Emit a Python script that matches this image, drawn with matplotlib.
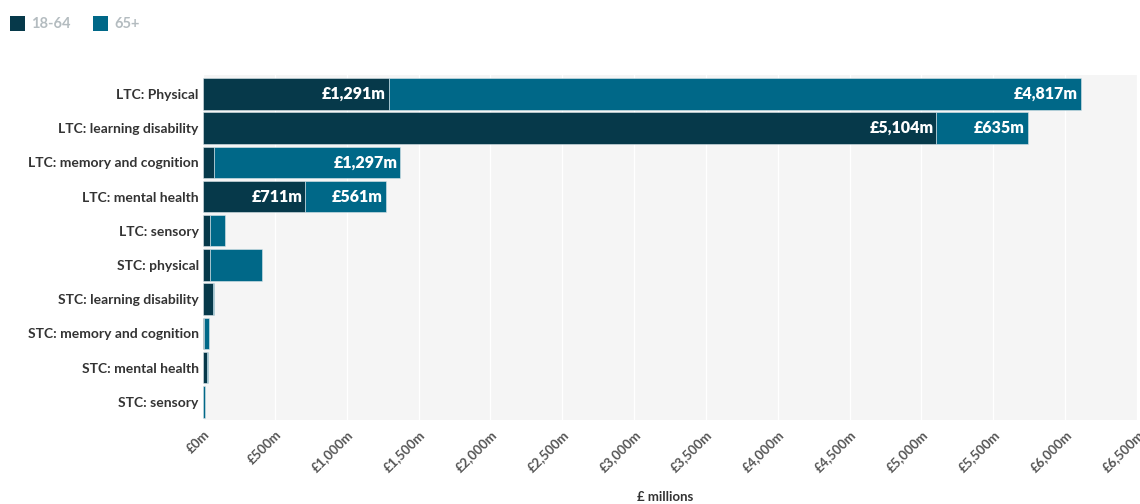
import matplotlib
matplotlib.use("Agg")
import matplotlib.pyplot as plt
from matplotlib.patches import Rectangle

categories = ["LTC: Physical", "LTC: learning disability", "LTC: memory and cognition",
              "LTC: mental health", "LTC: sensory", "STC: physical",
              "STC: learning disability", "STC: memory and cognition",
              "STC: mental health", "STC: sensory"]
age_18_64 = [1291, 5104, 75, 711, 52, 48, 72, 4, 26, 2]
age_65_plus = [4817, 635, 1297, 561, 98, 365, 3, 36, 12, 10]
series_names = ["18-64", "65+"]
xticks = list(range(0, 7000, 500))
label_threshold = 500

c_dark = "#06394a"
c_blue = "#006888"

plt.rcParams['font.family'] = ['Lato', 'DejaVu Sans']

fig = plt.figure(figsize=(11.4, 5.04), dpi=100)
ax = fig.add_axes([203/1140, 1-420/504, (1137-203)/1140, (420-75)/504])
ax.set_facecolor("#f5f5f5")

y = list(range(len(categories)))
h = 0.92
ax.barh(y, age_18_64, height=h, color=c_dark, edgecolor="#dce6ea", linewidth=0.4, zorder=3)
ax.barh(y, age_65_plus, left=age_18_64, height=h, color=c_blue, edgecolor="#dce6ea", linewidth=0.4, zorder=3)

def fmt(v):
    return "£{:,}m".format(v)

for i in y:
    a, b = age_18_64[i], age_65_plus[i]
    if a >= label_threshold:
        ax.text(a - 20, i, fmt(a), ha="right", va="center", color="white",
                fontsize=11.5, fontweight="heavy", zorder=4)
    if b >= label_threshold:
        ax.text(a + b - 20, i, fmt(b), ha="right", va="center", color="white",
                fontsize=11.5, fontweight="heavy", zorder=4)

ax.set_xlim(0, 6500)
ax.set_ylim(len(categories) - 0.47, -0.55)
ax.set_xticks(xticks)
ax.set_xticklabels([fmt(v) for v in xticks], rotation=45, ha="right",
                   rotation_mode="anchor", fontsize=9.5, color="#555555", fontweight="bold")
ax.set_yticks(y)
ax.set_yticklabels(categories, fontsize=10, color="#333333", fontweight="bold")
ax.tick_params(axis="both", length=0)
ax.tick_params(axis="y", pad=3)
ax.tick_params(axis="x", pad=6)
ax.grid(axis="x", color="white", linewidth=1.0, zorder=0)
ax.set_axisbelow(True)
for s in ax.spines.values():
    s.set_visible(False)

fig.text((203 + 1137) / 2 / 1140 - 0.004, 1 - 497/504, "£ millions", ha="center", va="center",
         fontsize=9.5, fontweight="bold", color="#333333")

# legend
fig.patches.append(Rectangle((10/1140, 1-31/504), 15/1140, 15/504, transform=fig.transFigure,
                             facecolor=c_dark, edgecolor="none"))
fig.text(31/1140, 1-24/504, series_names[0], fontsize=10.5, fontweight="bold",
         color="#b4bcc0", va="center", ha="left")
fig.patches.append(Rectangle((93/1140, 1-31/504), 15/1140, 15/504, transform=fig.transFigure,
                             facecolor=c_blue, edgecolor="none"))
fig.text(114/1140, 1-24/504, series_names[1], fontsize=10.5, fontweight="bold",
         color="#b4bcc0", va="center", ha="left")

fig.savefig("out.png", dpi=100)
